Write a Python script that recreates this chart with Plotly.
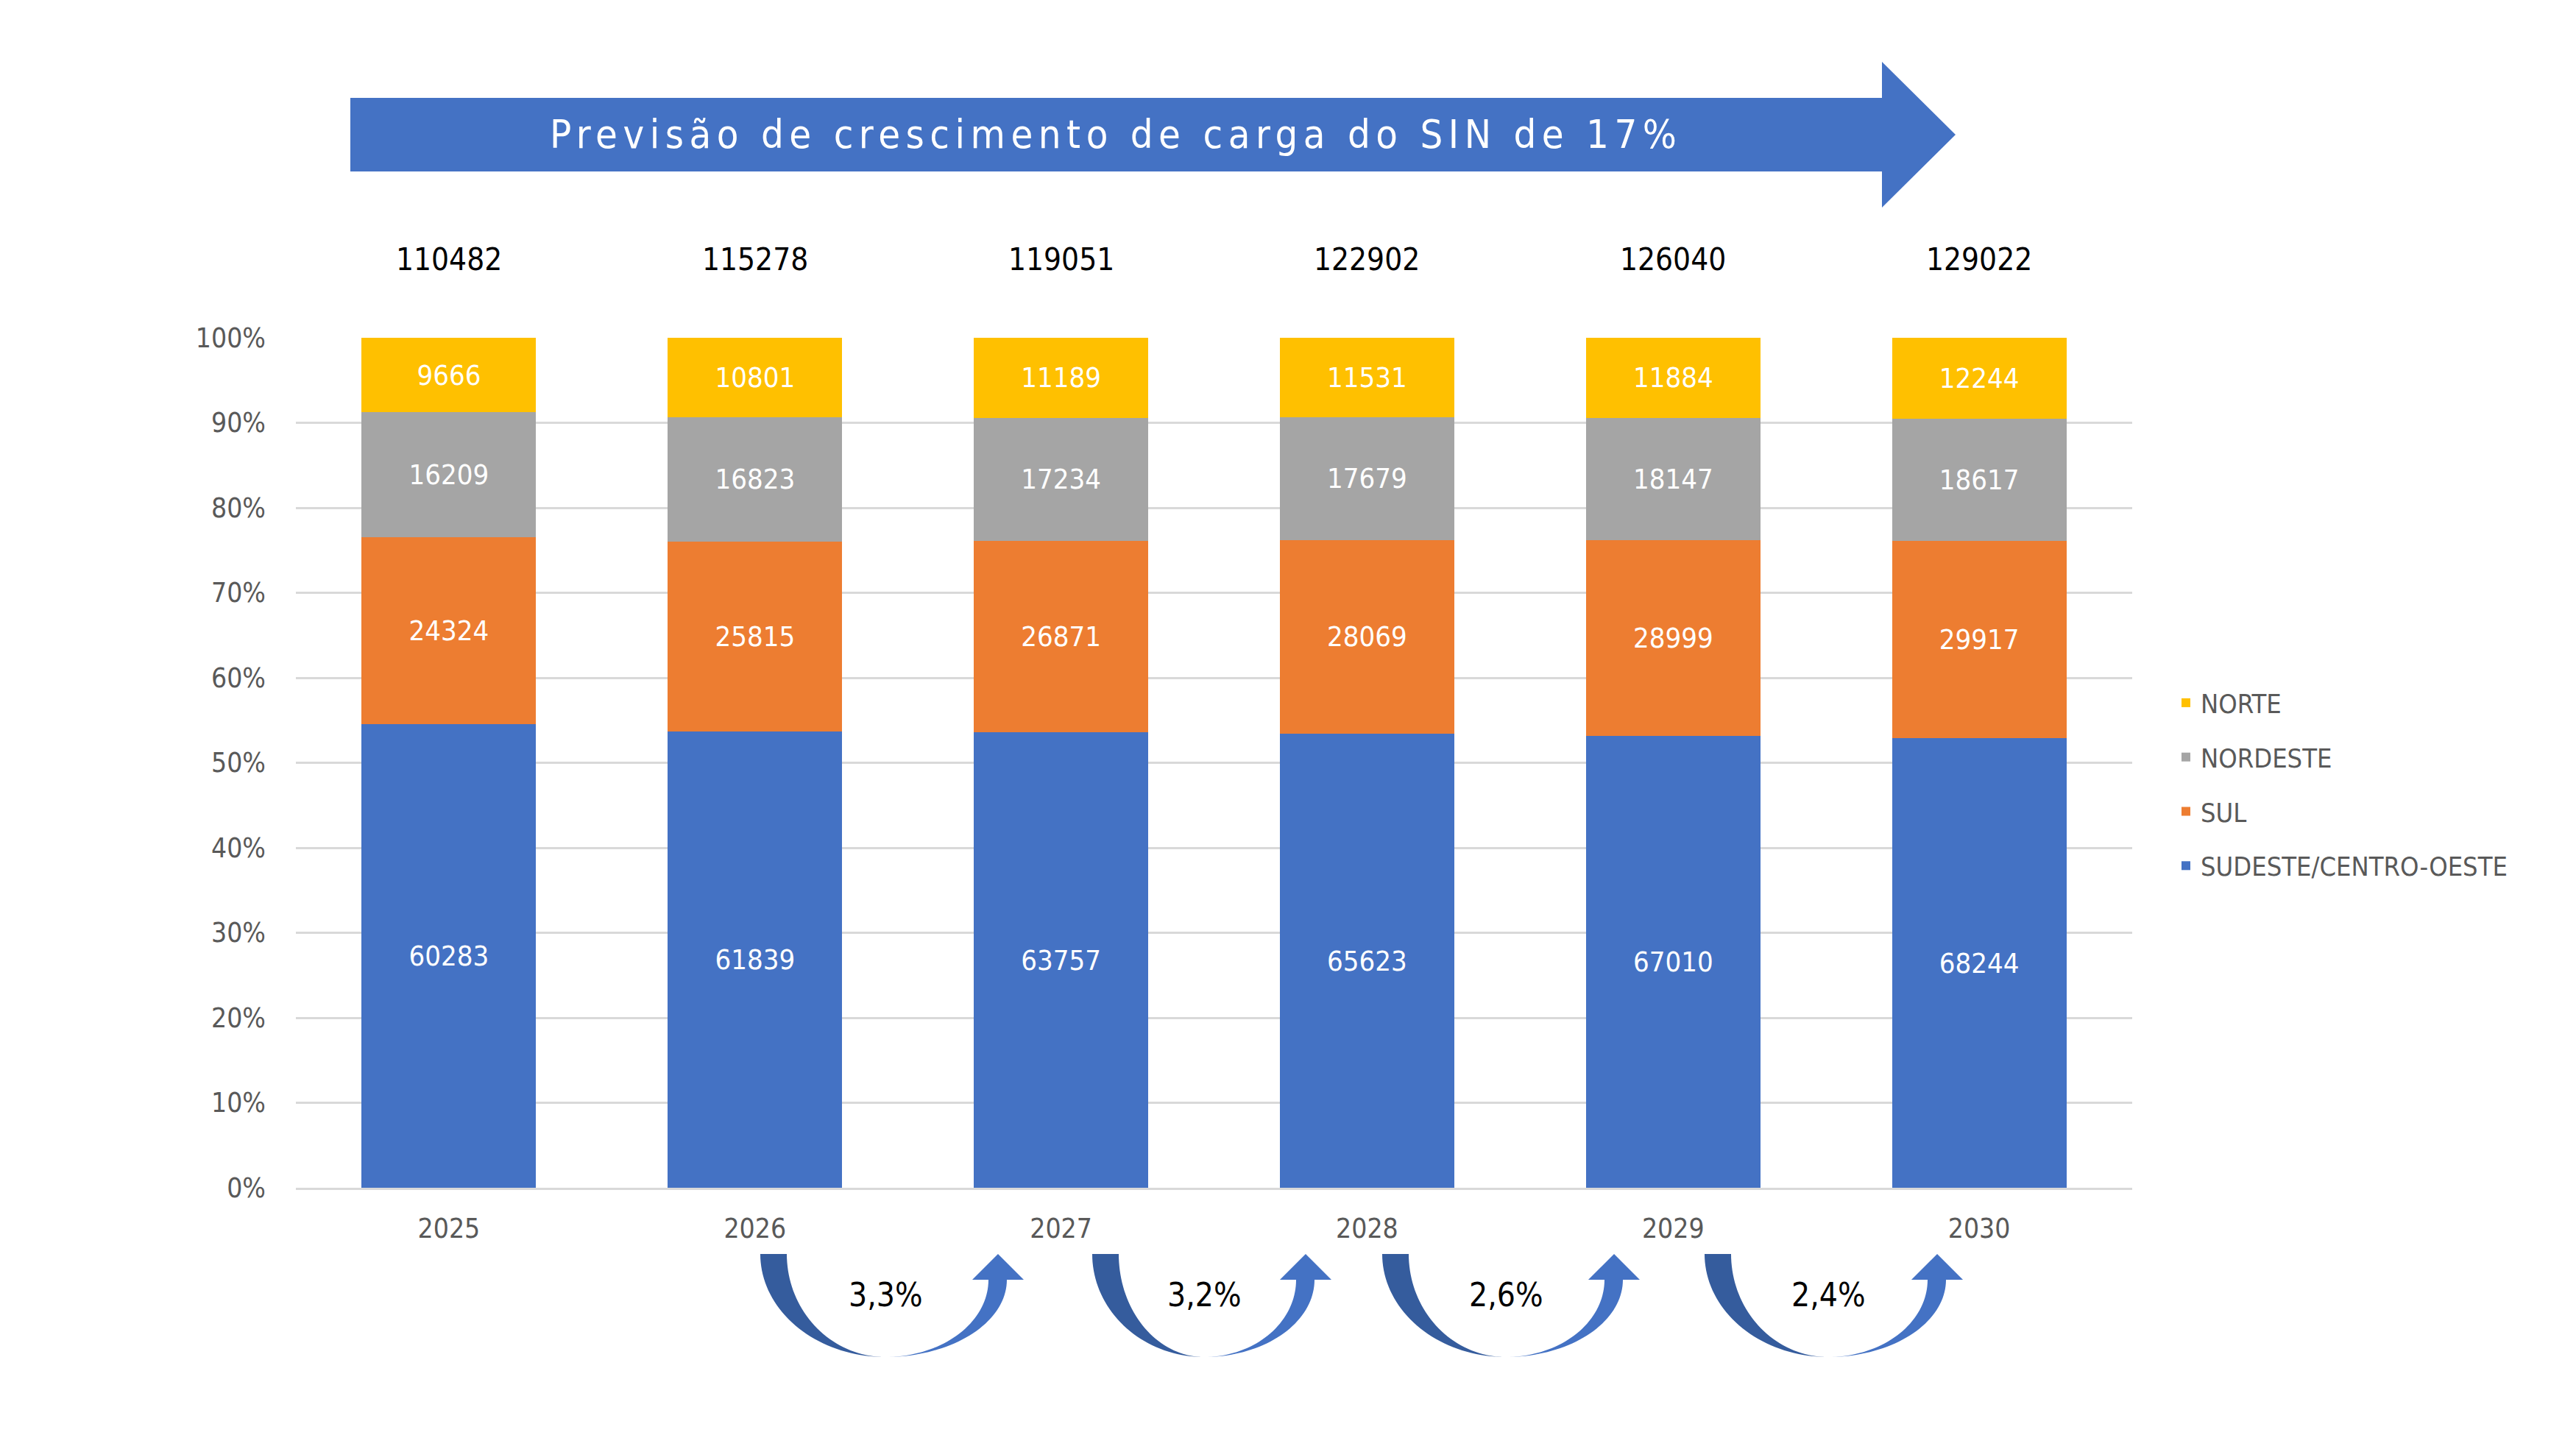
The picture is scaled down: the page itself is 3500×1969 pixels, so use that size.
import numpy as np
import plotly.graph_objects as go

# Data
anos = ["2025", "2026", "2027", "2028", "2029", "2030"]
sudeste_co = [60283, 61839, 63757, 65623, 67010, 68244]
sul = [24324, 25815, 26871, 28069, 28999, 29917]
nordeste = [16209, 16823, 17234, 17679, 18147, 18617]
norte = [9666, 10801, 11189, 11531, 11884, 12244]
crescimento = ["3,3%", "3,2%", "2,6%", "2,4%"]
titulo = "Previsão de crescimento de carga do SIN de 17%"

FONT = "DejaVu Sans Condensed, Liberation Sans Narrow, sans-serif"
W, H = 3500, 1969
OFF = 8  # page body margin
PL, PR, PT, PB = 402, 2897, 459, 1614  # plot area in screenshot pixels


def to_paper(X, Y):
    return (X - PL) / (PR - PL), (PB - Y) / (PB - PT)


def path_from(points):
    pts = [to_paper(x, y) for x, y in points]
    d = "M %.5f,%.5f " % pts[0]
    d += " ".join("L %.5f,%.5f" % p for p in pts[1:])
    return d + " Z"


series = [
    ("SUDESTE/CENTRO-OESTE", sudeste_co, "#4472C4", 4),
    ("SUL", sul, "#ED7D31", 3),
    ("NORDESTE", nordeste, "#A5A5A5", 2),
    ("NORTE", norte, "#FFC000", 1),
]

fig = go.Figure()
for name, vals, color, rank in series:
    fig.add_trace(go.Bar(
        x=anos, y=vals, name=name, legendgroup=name, legendrank=rank,
        marker=dict(color=color, line=dict(width=0)),
        text=[str(v) for v in vals], texttemplate="%{text}",
        textposition="inside", insidetextanchor="middle", textangle=0,
        textfont=dict(color="white", size=38, family=FONT),
        hoverinfo="skip",
    ))

# totals above each bar (x given as category index)
totais = [a + b + c + d for a, b, c, d in zip(sudeste_co, sul, nordeste, norte)]
annotations = []
for i, tot in enumerate(totais):
    annotations.append(dict(x=i, xref="x", y=to_paper(0, 352)[1], yref="paper",
                            xanchor="center", yanchor="middle",
                            text=str(tot), showarrow=False,
                            font=dict(size=42, color="black", family=FONT)))

shapes = []

# big arrow at the top
top_arrow = [(476, 133), (2557, 133), (2557, 84), (2657, 183),
             (2557, 282), (2557, 233), (476, 233)]
shapes.append(dict(type="path", xref="paper", yref="paper", path=path_from(top_arrow),
                   fillcolor="#4472C4", line=dict(width=0), layer="above"))
tx, ty = to_paper(1516, 183)
annotations.append(dict(x=tx, y=ty, xref="paper", yref="paper", showarrow=False,
                        xanchor="center", yanchor="middle",
                        text='<span style="letter-spacing:7.5px">' + titulo + "</span>",
                        font=dict(size=54, color="white", family=FONT)))

# curved growth arrows below the axis
T, B, HB = 1704, 1844, 1739
curvas = [(1033, 1203, 1356), (1484, 1636, 1774), (1878, 2046, 2193), (2316, 2484, 2632)]
t = np.linspace(0, np.pi / 2, 40)
for (lo, bx, tip), lab in zip(curvas, crescimento):
    li = lo + 36
    outer = [(bx - (bx - lo) * np.cos(a), T + (B - T) * np.sin(a)) for a in t]
    inner = [(bx - (bx - li) * np.cos(a), T + (B - T) * np.sin(a)) for a in t][::-1]
    shapes.append(dict(type="path", xref="paper", yref="paper",
                       path=path_from(outer + inner),
                       fillcolor="#355C9D", line=dict(width=0)))
    so, si = tip + 12, tip - 13
    r_outer = [(bx + (so - bx) * np.cos(a), HB + (B - HB) * np.sin(a)) for a in t][::-1]
    r_inner = [(bx + (si - bx) * np.cos(a), HB + (B - HB) * np.sin(a)) for a in t]
    head = [(tip + 35, HB), (tip, T), (tip - 35, HB)]
    shapes.append(dict(type="path", xref="paper", yref="paper",
                       path=path_from(r_outer + head + r_inner),
                       fillcolor="#4472C4", line=dict(width=0)))
    lx, ly = to_paper(bx, 1759)
    annotations.append(dict(x=lx, y=ly, xref="paper", yref="paper", text=lab,
                            xanchor="center", yanchor="middle",
                            showarrow=False, font=dict(size=44, color="black", family=FONT)))

lgx, lgy = to_paper(2950, 925)
ticks_y = list(range(0, 101, 10))
fig.update_layout(
    width=W, height=H,
    barmode="stack", barnorm="percent", bargap=0.43,
    plot_bgcolor="white", paper_bgcolor="white",
    margin=dict(l=PL - OFF, r=W - (PR - OFF), t=PT - OFF, b=H - (PB - OFF), autoexpand=False),
    font=dict(family=FONT, color="#595959"),
    xaxis=dict(type="category", range=[-0.5, len(anos) - 0.5], showgrid=False,
               showline=True, linecolor="#D9D9D9",
               linewidth=3, tickfont=dict(size=37, color="#595959"), ticks="",
               ticklabelstandoff=21),
    yaxis=dict(range=[0, 100], tickmode="array", tickvals=ticks_y,
               ticktext=["%d%%" % v for v in ticks_y],
               showgrid=True, gridcolor="#D9D9D9", gridwidth=3, zeroline=False,
               showline=False, ticks="", tickfont=dict(size=37, color="#595959"),
               ticklabelstandoff=40),
    legend=dict(x=lgx, y=lgy, xanchor="left", yanchor="top",
                traceorder="grouped", tracegroupgap=24,
                font=dict(size=36, color="#595959", family=FONT),
                bgcolor="rgba(0,0,0,0)"),
    shapes=shapes,
    annotations=annotations,
)

fig.write_html("out.html")
